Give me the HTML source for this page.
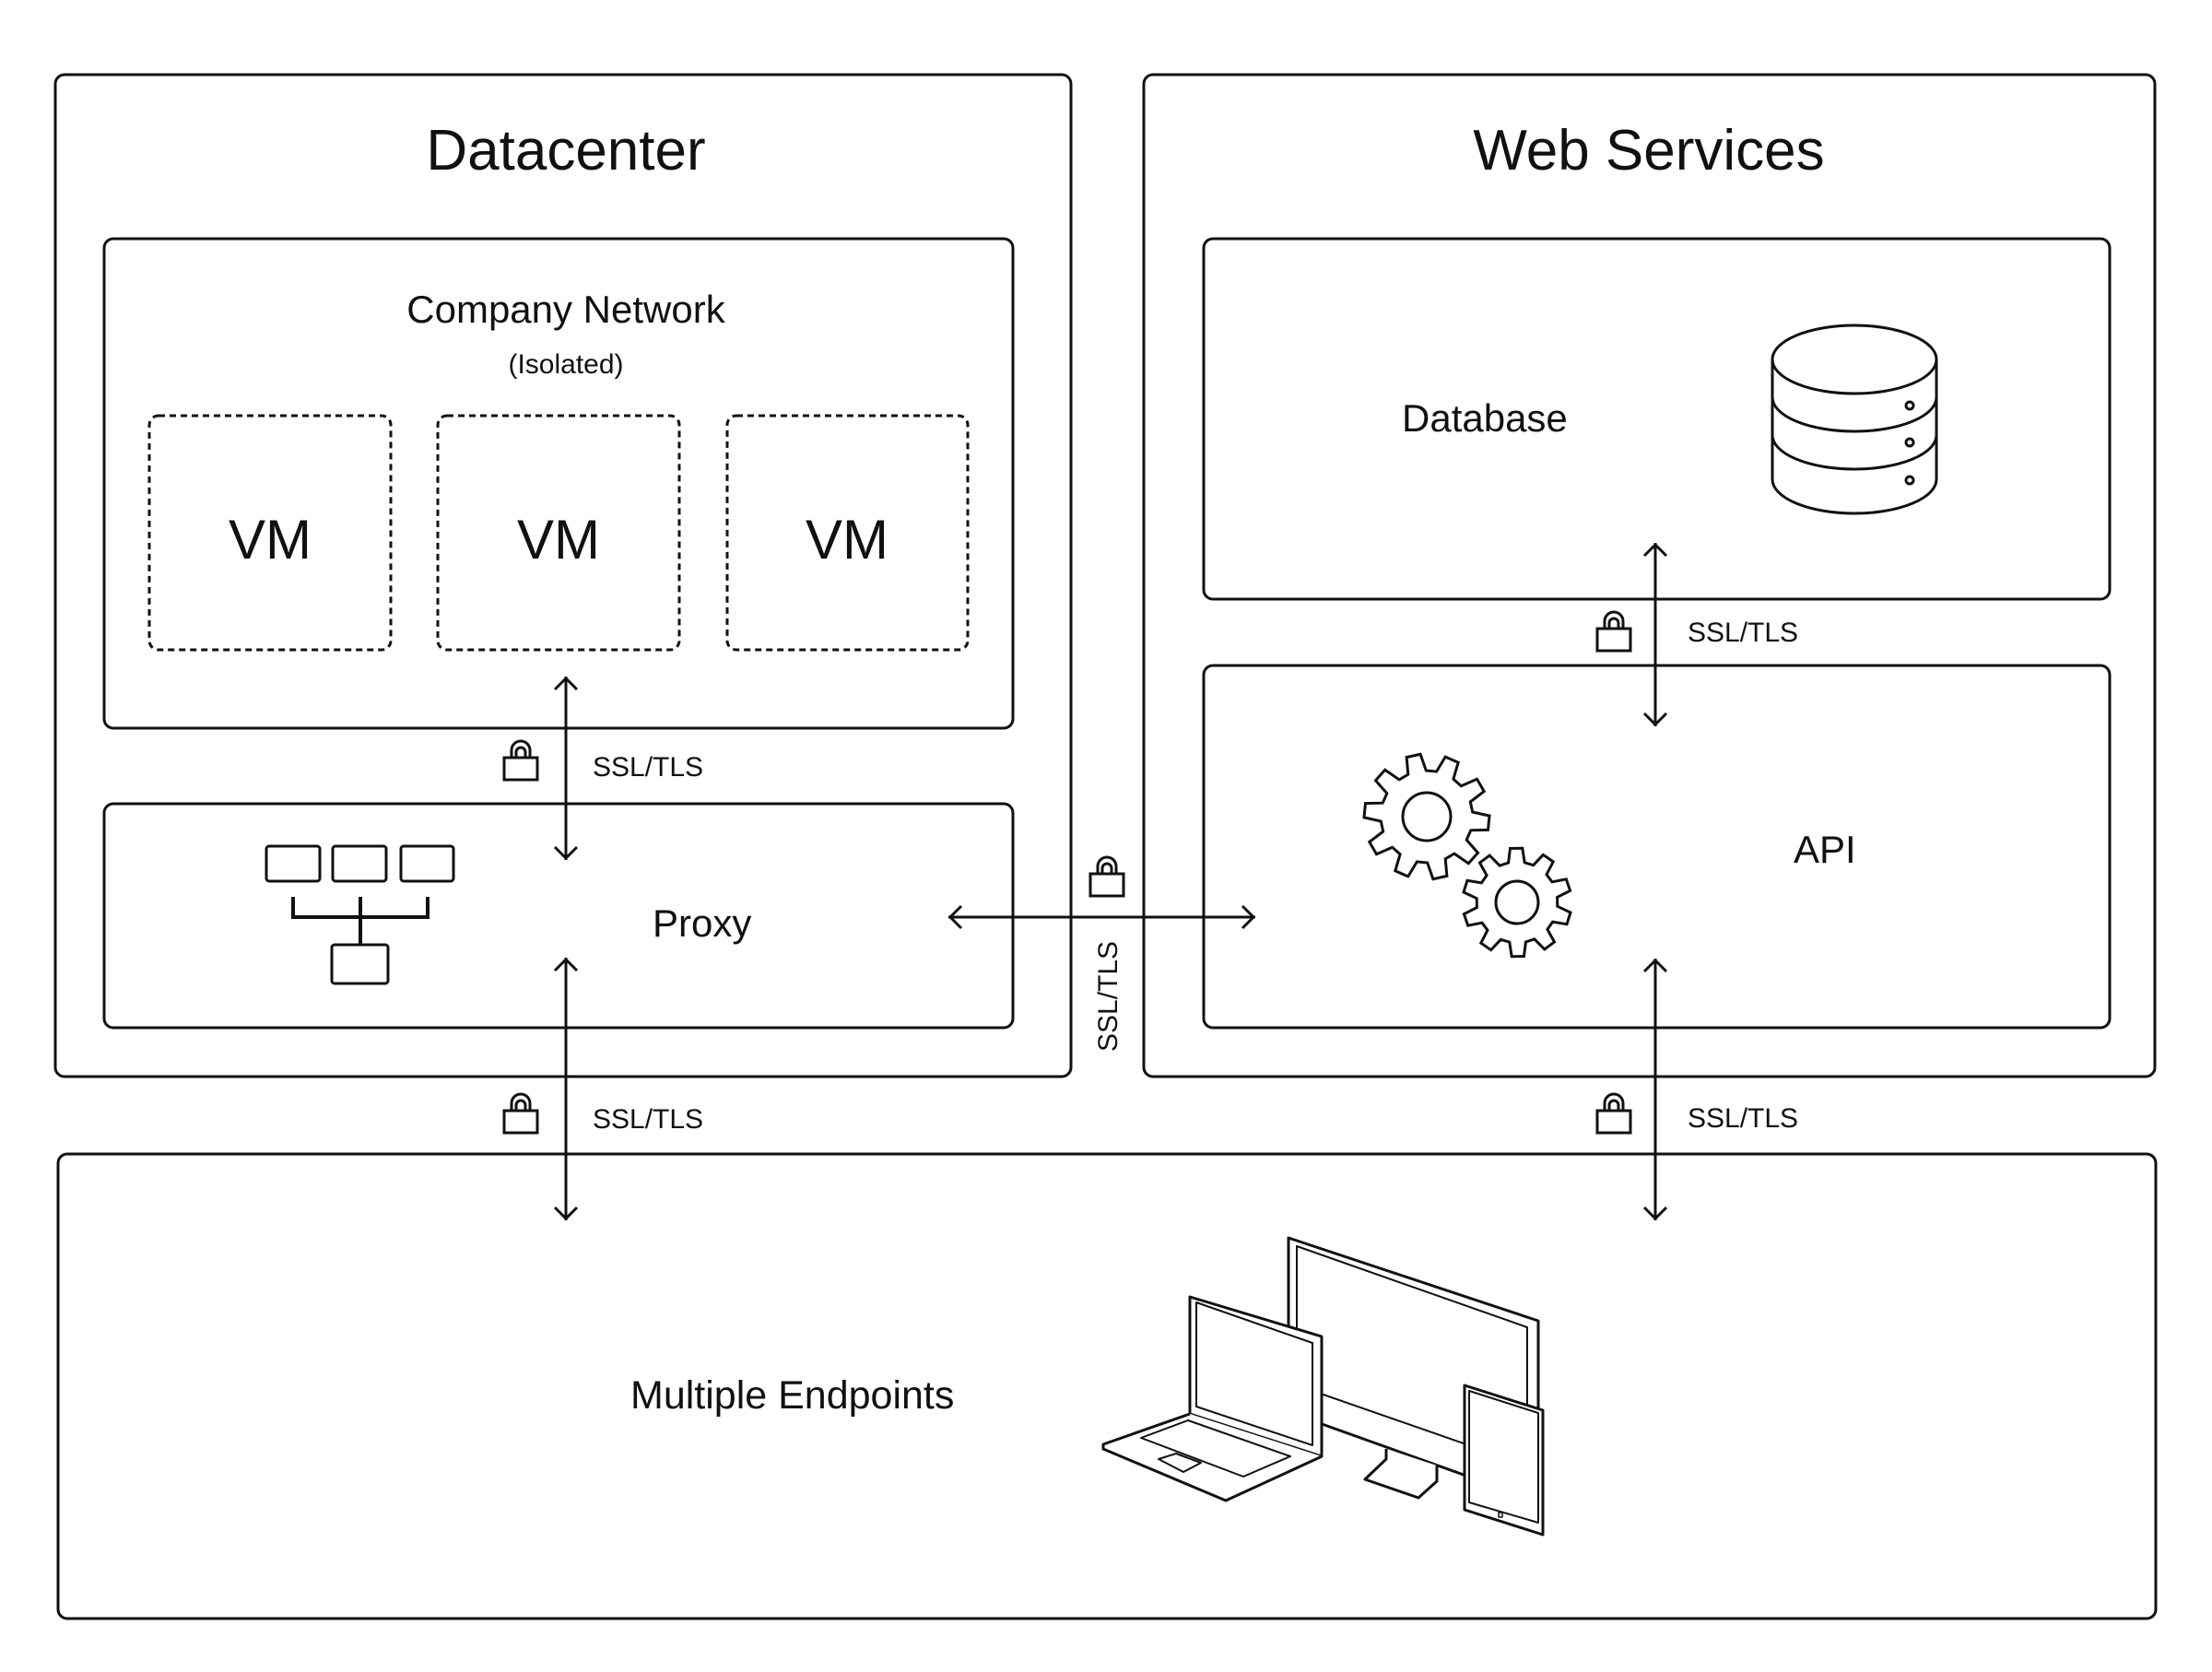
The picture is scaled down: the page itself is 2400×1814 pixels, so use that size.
<!DOCTYPE html>
<html><head><meta charset="utf-8"><style>
html,body{margin:0;padding:0;background:#fff}
svg{display:block}
text{font-family:"Liberation Sans",sans-serif;fill:#111}
</style></head><body>
<svg id="s" width="2400" height="1814" viewBox="0 0 2400 1814" xmlns="http://www.w3.org/2000/svg">
<defs>
<g id="lock" fill="none" stroke="#111" stroke-width="3">
<rect x="-18" y="0" width="36" height="24"/>
<path d="M-10 0 V-8 A10 10 0 0 1 10 -8 V0"/>
<path d="M-5 0 V-6 A5 5 0 0 1 5 -6 V0"/>
</g>
</defs>
<g fill="none" stroke="#111" stroke-width="3">
<rect x="60" y="81" width="1102" height="1087" rx="10"/>
<rect x="1241" y="81" width="1097" height="1087" rx="10"/>
<rect x="113" y="259" width="986" height="531" rx="10"/>
<rect x="113" y="872" width="986" height="243" rx="10"/>
<rect x="1306" y="259" width="983" height="391" rx="10"/>
<rect x="1306" y="722" width="983" height="393" rx="10"/>
<rect x="63" y="1252" width="2276" height="504" rx="10"/>
<g stroke-dasharray="7 5">
<rect x="162" y="451" width="262" height="254" rx="10"/>
<rect x="475" y="451" width="262" height="254" rx="10"/>
<rect x="789" y="451" width="261" height="254" rx="10"/>
</g>
<rect x="289" y="918" width="58" height="38" rx="3"/>
<rect x="361" y="918" width="58" height="38" rx="3"/>
<rect x="435" y="918" width="57" height="38" rx="3"/>
<rect x="360" y="1025" width="61" height="42" rx="3"/>
<path d="M318 973 V995 H464 V973 M391 973 V1025" stroke-width="4"/>
<path d="M614 734 V933 M602 748 L614 736 L626 748 M602 919 L614 931 L626 919"/>
<path d="M614 1039 V1324 M602 1053 L614 1041 L626 1053 M602 1310 L614 1322 L626 1310"/>
<path d="M1796 589 V788 M1784 603 L1796 591 L1808 603 M1784 774 L1796 786 L1808 774"/>
<path d="M1796 1040 V1324 M1784 1054 L1796 1042 L1808 1054 M1784 1310 L1796 1322 L1808 1310"/>
<path d="M1029 995 H1362 M1043 983 L1031 995 L1043 1007 M1348 983 L1360 995 L1348 1007"/>
<path d="M1923 390 V520 A89 37 0 0 0 2101 520 V390"/>
<ellipse cx="2012" cy="390" rx="89" ry="37"/>
<path d="M1923 431 A89 37 0 0 0 2101 431"/>
<path d="M1923 472 A89 37 0 0 0 2101 472"/>
<circle cx="2072" cy="440" r="4"/><circle cx="2072" cy="480" r="4"/><circle cx="2072" cy="521" r="4"/>
<circle cx="1548" cy="886" r="26"/>
<circle cx="1646" cy="979" r="23"/>
<path id="g1"/><path id="g2"/>
<g stroke-width="3" stroke-linejoin="round">
<path d="M1398 1343 L1669 1433 L1669 1629 L1398 1532 Z" fill="#fff"/>
<path d="M1407 1352 L1657 1440 L1657 1590 L1407 1503 Z" stroke-width="2"/>
<path d="M1504 1572 L1504 1583 L1481 1605 L1539 1625 L1559 1607 L1559 1590" fill="#fff"/>
<path d="M1291 1407 L1434 1450 L1434 1580 L1291 1534 Z" fill="#fff"/>
<path d="M1298 1413 L1424 1457 L1424 1568 L1298 1526 Z" stroke-width="2"/>
<path d="M1291 1534 L1197 1567 L1197 1572 L1330 1628 L1430 1582 L1434 1580" fill="#fff"/>
<path d="M1238 1560 L1289 1541 L1400 1580 L1349 1602 Z" stroke-width="2"/>
<path d="M1257 1583 L1276 1577 L1303 1587 L1284 1597 Z" stroke-width="2"/>
<path d="M1589 1503 L1674 1530 L1674 1665 L1589 1638 Z" fill="#fff"/>
<path d="M1594 1509 L1669 1533 L1669 1652 L1594 1630 Z" stroke-width="2"/>
<rect x="1626" y="1641" width="4" height="5" stroke-width="1.5"/>
</g>
</g>
<use href="#lock" x="565" y="822"/>
<use href="#lock" x="1751" y="682"/>
<use href="#lock" x="565" y="1205"/>
<use href="#lock" x="1751" y="1205"/>
<use href="#lock" x="1201" y="948"/>
<text x="614" y="184" font-size="62" text-anchor="middle">Datacenter</text>
<text x="1789" y="184" font-size="62" text-anchor="middle">Web Services</text>
<text x="614" y="350" font-size="42" text-anchor="middle">Company Network</text>
<text x="614" y="405" font-size="30" text-anchor="middle">(Isolated)</text>
<text x="293" y="606" font-size="60" text-anchor="middle">VM</text>
<text x="606" y="606" font-size="60" text-anchor="middle">VM</text>
<text x="919" y="606" font-size="60" text-anchor="middle">VM</text>
<text x="708" y="1016" font-size="42">Proxy</text>
<text x="1521" y="468" font-size="42">Database</text>
<text x="1946" y="936" font-size="42">API</text>
<text x="684" y="1528" font-size="43">Multiple Endpoints</text>
<g font-size="30" fill="#333">
<text x="643" y="842">SSL/TLS</text>
<text x="1831" y="696">SSL/TLS</text>
<text x="643" y="1224">SSL/TLS</text>
<text x="1831" y="1223">SSL/TLS</text>
<text transform="translate(1212,1141) rotate(-90)">SSL/TLS</text>
</g>
</svg>
<script>
function gear(cx,cy,R,r,n,rot){var p=[],s=Math.PI*2/n;for(var i=0;i<n;i++){var a=i*s+rot;var pts=[[r,a-s*0.32],[R,a-s*0.18],[R,a+s*0.18],[r,a+s*0.32]];pts.forEach(function(q){p.push((cx+q[0]*Math.cos(q[1])).toFixed(1)+","+(cy+q[0]*Math.sin(q[1])).toFixed(1));});}return "M"+p.join(" L")+" Z";}
document.getElementById("g1").setAttribute("d",gear(1548,886,68,50,10,0.1));
document.getElementById("g2").setAttribute("d",gear(1646,979,59,44,10,0.3));
</script>
</body></html>
